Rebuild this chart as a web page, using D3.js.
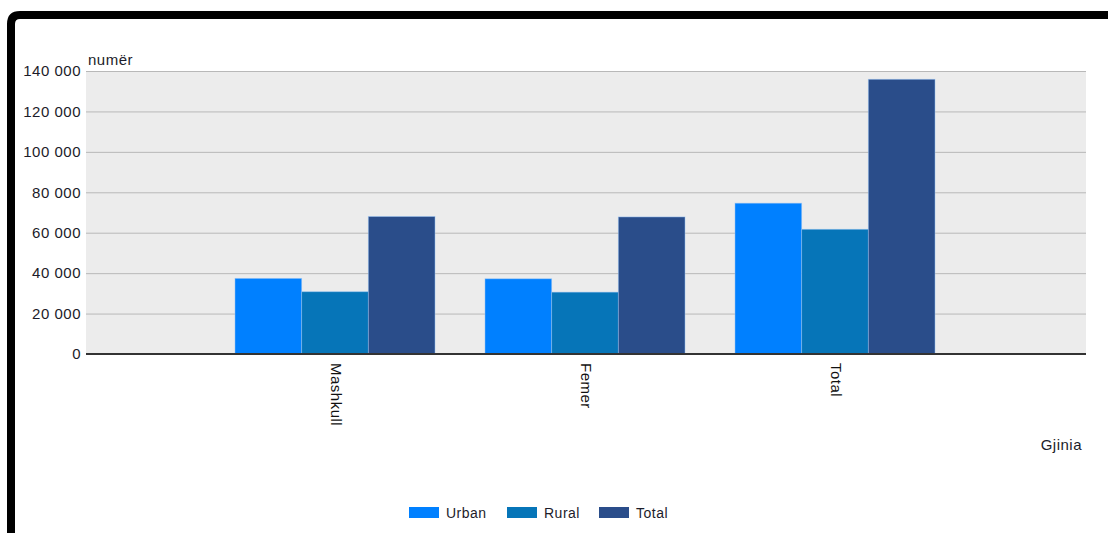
<!DOCTYPE html>
<html>
<head>
<meta charset="utf-8">
<script src="https://cdn.jsdelivr.net/npm/d3@7"></script>
<style>
  body { margin:0; background:#fff; }
  text { font-family: "Liberation Sans", Arial, sans-serif; letter-spacing: 0.5px; }
</style>
</head>
<body>
<svg id="chart" width="1108" height="533"></svg>
<script>
// data
var categories = ["Mashkull", "Femer", "Total"];
var seriesNames = ["Urban", "Rural", "Total"];
var urban = [37400, 37200, 74600];
var rural = [30800, 30600, 61700];
var total = [68000, 67800, 135900];
var yTicks = [0, 20000, 40000, 60000, 80000, 100000, 120000, 140000];

var seriesValues = [urban, rural, total];
var colors = ["#0080ff", "#0675b8", "#2a4d8a"];

var svg = d3.select("#chart");
var margin = {top:71, left:86, right:22, bottom:179};
var width = 1108, height = 533;
var plotW = width - margin.left - margin.right;
var plotH = height - margin.top - margin.bottom;

// frame border
svg.append("path")
    .attr("d", "M11,533 L11,24 Q11,15 20,15 L1108,15")
    .attr("fill", "none")
    .attr("stroke", "#000")
    .attr("stroke-width", 8);

var x = d3.scalePoint().domain(categories).range([margin.left-1, margin.left+plotW-1]).padding(1);
var inner = d3.scaleBand().domain(seriesNames).range([-x.step()*0.4, x.step()*0.4]);
var y = d3.scaleLinear().domain([0, 140000]).range([margin.top+plotH, margin.top]);

svg.append("rect")
    .attr("x", margin.left).attr("y", margin.top)
    .attr("width", plotW).attr("height", plotH)
    .attr("fill", "#ececec");

var fmt = function(d){ return d3.format(",")(d).replace(/,/g, " "); };

var yAxis = svg.append("g")
    .attr("transform", "translate("+margin.left+",0)")
    .call(d3.axisLeft(y).tickValues(yTicks).tickSize(-plotW).tickPadding(5).tickFormat(fmt));
yAxis.select(".domain").remove();
yAxis.selectAll(".tick line").attr("stroke", "#b8b8b8");
yAxis.selectAll(".tick text")
    .attr("fill", "#1c1c2a")
    .style("font-size", "15px")
    .style("font-family", "Liberation Sans, Arial, sans-serif");

// bars
var groups = svg.selectAll(".grp")
    .data(categories)
    .enter().append("g")
    .attr("class", "grp")
    .attr("transform", function(d){ return "translate("+x(d)+",0)"; });

groups.selectAll("rect")
    .data(function(d, i){
        return seriesNames.map(function(s, j){ return {s:s, v:seriesValues[j][i], c:colors[j]}; });
    })
    .enter().append("rect")
    .attr("x", function(d){ return inner(d.s); })
    .attr("width", inner.bandwidth())
    .attr("y", function(d){ return y(d.v); })
    .attr("height", function(d){ return y(0) - y(d.v); })
    .attr("fill", function(d){ return d.c; })
    .attr("stroke", "rgba(150,195,245,0.6)")
    .attr("stroke-width", 0.8);

// baseline
svg.append("line")
    .attr("x1", margin.left).attr("x2", margin.left+plotW)
    .attr("y1", y(0)).attr("y2", y(0))
    .attr("stroke", "#333").attr("stroke-width", 2);

// x labels, rotated
svg.selectAll(".xlab")
    .data(categories)
    .enter().append("text")
    .attr("class", "xlab")
    .attr("transform", function(d){ return "translate("+(x(d)-4)+","+(y(0)+9)+") rotate(90)"; })
    .attr("text-anchor", "start")
    .style("font-size", "15px")
    .attr("fill", "#111")
    .text(function(d){ return d; });

svg.append("text")
    .attr("x", 88).attr("y", 65)
    .style("font-size", "15px")
    .attr("fill", "#1c1c2a")
    .text("numër");

svg.append("text")
    .attr("x", 1082).attr("y", 450)
    .attr("text-anchor", "end")
    .style("font-size", "15px")
    .attr("fill", "#1c1c2a")
    .text("Gjinia");

// legend
var legendX = [409, 507, 599];
var leg = svg.selectAll(".leg")
    .data(seriesNames)
    .enter().append("g")
    .attr("class", "leg")
    .attr("transform", function(d, i){ return "translate("+legendX[i]+",507)"; });
leg.append("rect")
    .attr("width", 30).attr("height", 11)
    .attr("fill", function(d, i){ return colors[i]; });
leg.append("text")
    .attr("x", 37).attr("y", 11)
    .style("font-size", "14px")
    .attr("fill", "#1c1c2a")
    .text(function(d){ return d; });
</script>
</body>
</html>
